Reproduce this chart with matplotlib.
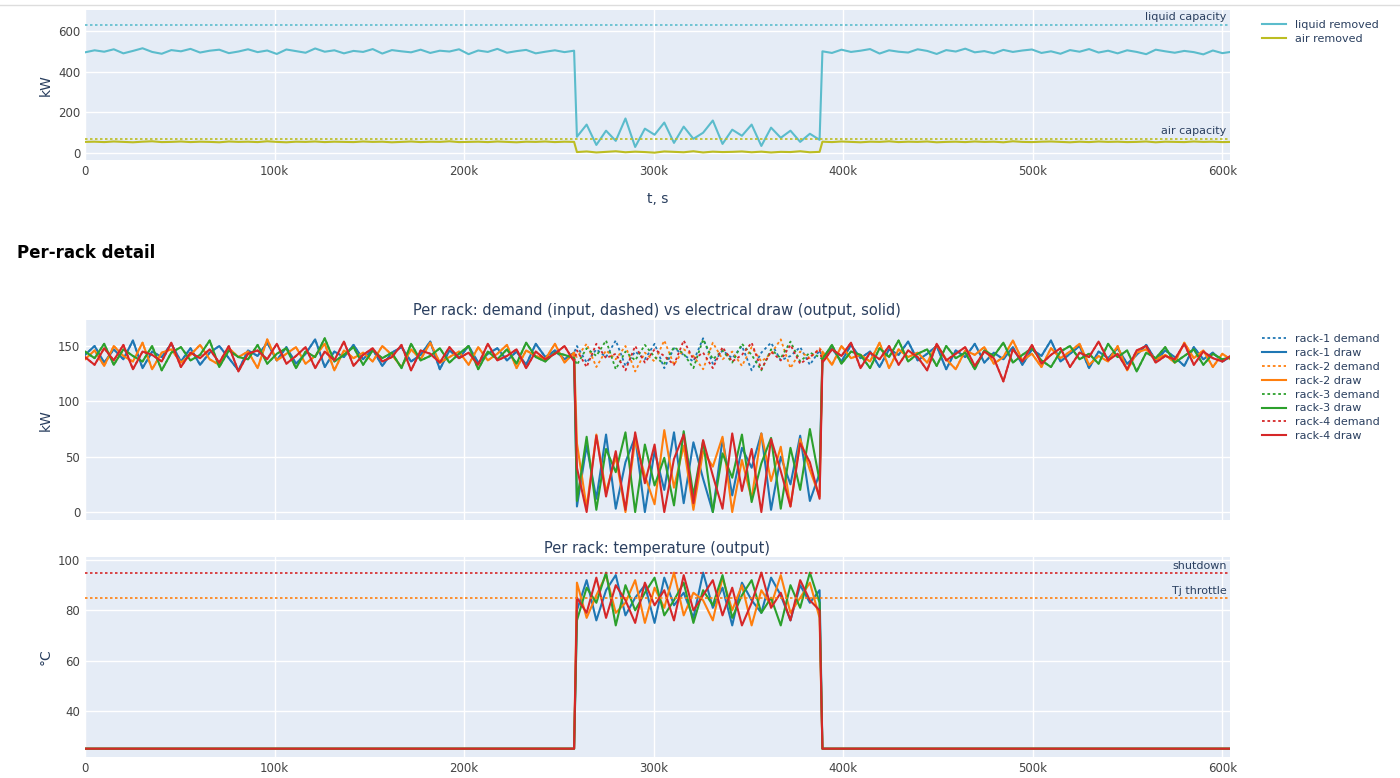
import numpy as np
import matplotlib
matplotlib.use("Agg")
import matplotlib.pyplot as plt
from matplotlib.ticker import FuncFormatter
from matplotlib.lines import Line2D

# ---- data: three time segments (normal / cooling failure / normal) ----
seg_a = (0, 258000)
seg_f = (259500, 387500)
seg_b = (389000, 605000)

liq_a = [495,505,498,510,490,502,515,497,488,506,500,512,494,503,508,491,499,510,496,504,487,509,501,493,514,498,505,490,502,497,511,489,506,500,495,508,492,503,499,510,486,504,497,512,493,501,507,490,498,505,496,503]
liq_f = [80,140,40,110,60,170,30,120,90,150,50,130,70,100,160,45,115,85,140,35,125,75,110,55,95,65]
liq_b = [500,492,508,497,503,511,489,505,498,494,510,502,487,506,499,513,495,501,490,507,497,504,509,492,500,488,506,498,511,494,503,490,505,497,486,508,500,493,502,496,485,504,491,498]
air_a = [55,56,54,57,55,53,56,58,54,55,57,54,56,55,53,57,55,56,54,58,55,53,56,55,57,54,56,55,54,57,55,56,53,55,57,54,56,55,58,54,55,56,54,57,55,53,56,55,57,54,56,55]
air_f = [5,8,3,6,9,4,7,5,2,8,6,4,9,3,7,5,6,8,4,7,3,6,5,9,4,6]
air_b = [56,54,57,55,53,56,55,58,54,56,55,57,53,55,56,54,57,55,56,53,58,55,54,56,57,55,53,56,54,57,55,56,54,55,57,53,56,55,54,57,55,56,54,55]
liquid_capacity = 630
air_capacity = 70

racks = ["rack-1", "rack-2", "rack-3", "rack-4"]
demand_a = [
 [142,150,135,147,138,155,130,145,140,152,136,148,133,144,150,139,128,146,141,153,137,149,134,143,156,131,145,140,151,138,147,132,144,149,136,142,154,129,146,139,150,135,143,148,137,145,133,152,140,146,138,144],
 [138,146,132,150,141,136,153,129,144,147,135,142,151,138,133,148,140,145,130,156,137,143,149,134,141,152,128,146,139,144,136,150,142,131,147,138,153,135,140,145,133,149,137,143,151,130,146,141,138,152,135,144],
 [145,139,152,133,147,141,136,150,128,144,149,137,142,155,131,146,140,138,151,134,143,148,130,145,140,157,136,142,149,133,146,139,144,130,152,137,141,148,135,143,150,129,145,138,147,134,153,140,136,144,142,139],
 [140,133,148,137,151,129,145,142,136,153,131,144,139,147,135,150,127,143,146,138,152,134,141,149,130,145,137,154,132,142,148,136,140,151,128,146,143,135,149,139,144,133,152,137,141,147,130,145,138,143,150,136]]
demand_f = [
 [150,135,147,140,155,132,145,138,152,130,148,142,136,157,134,146,139,150,128,144,153,137,141,149,133,146],
 [140,152,131,146,138,150,127,144,136,155,133,147,141,129,153,138,145,132,149,136,143,156,130,145,139,148],
 [133,148,141,155,129,145,137,151,140,134,149,143,130,156,138,146,135,152,142,128,147,139,154,136,144,140],
 [146,131,152,139,143,128,150,135,147,141,133,155,138,144,130,149,136,142,153,129,145,137,151,134,140,147]]
demand_b = [
 [140,148,136,151,139,145,131,147,142,154,137,143,150,129,146,140,152,135,144,138,149,133,147,141,155,136,143,150,130,145,139,148,134,142,151,137,146,140,132,149,138,144,136,141],
 [145,133,150,139,142,136,153,130,147,140,144,135,151,138,129,146,142,149,134,140,155,137,143,131,148,139,145,152,133,141,136,150,128,144,147,138,142,135,153,139,146,131,143,137],
 [138,151,134,145,142,130,148,140,155,136,143,147,132,150,139,144,129,146,141,153,135,142,148,137,131,145,150,138,143,134,152,140,146,127,144,139,149,135,141,147,133,143,138,140],
 [135,147,141,153,130,144,138,150,133,146,140,128,152,137,143,149,132,145,139,118,147,136,151,134,142,148,131,144,140,154,137,143,129,146,150,135,141,138,152,133,145,139,136,142]]
draw_f = [
 [5,60,12,70,3,45,68,0,55,20,72,8,63,30,0,66,15,58,40,71,2,50,25,69,10,35],
 [62,4,70,18,50,0,65,33,7,74,22,60,2,55,41,68,0,47,12,71,28,59,5,66,38,14],
 [10,68,2,57,36,72,0,61,24,49,6,73,15,64,0,53,31,70,9,44,67,3,58,20,75,28],
 [40,0,69,14,55,2,72,26,61,0,48,70,8,65,33,3,71,19,57,0,66,37,5,62,45,12]]
temp_normal = 25
temp_f = [
 [80,92,76,88,94,78,85,90,75,93,82,87,77,95,81,89,74,91,84,79,93,86,76,90,83,88],
 [91,77,86,94,79,83,92,75,89,81,95,78,87,84,76,93,80,90,74,88,82,94,79,85,91,77],
 [76,89,83,95,74,90,80,87,93,78,84,91,75,88,82,94,77,86,92,79,85,74,90,81,95,83],
 [85,79,93,77,90,84,75,91,82,88,76,94,80,86,92,78,89,74,83,95,81,87,76,92,84,80]]
tj_throttle = 85
shutdown = 95

def series(a, f, b):
    ta = np.linspace(*seg_a, len(a)); tf = np.linspace(*seg_f, len(f)); tb = np.linspace(*seg_b, len(b))
    return np.concatenate([ta, tf, tb]), np.concatenate([a, f, b]).astype(float)

# ---- style ----
BG = "#e5ecf6"; TXT = "#2a3f5f"
rack_colors = ["#1f77b4", "#ff7f0e", "#2ca02c", "#d62728"]
LIQ = "#5bbccc"; AIR = "#bcbd22"
plt.rcParams.update({"font.family": ["DejaVu Sans"], "font.size": 8.5})
kfmt = FuncFormatter(lambda v, p: "0" if v == 0 else f"{int(v/1000)}k")
dot = (0, (1.5, 1.5))

fig = plt.figure(figsize=(14, 7.78), dpi=100)
fig.add_artist(Line2D([0, 1], [1-5/778, 1-5/778], color="#dddddd", lw=1))

def style(ax, ylim, yticks):
    ax.set_facecolor(BG)
    for s in ax.spines.values(): s.set_visible(False)
    ax.grid(True, color="white", lw=1); ax.set_axisbelow(True)
    ax.set_xlim(0, 604000); ax.set_ylim(*ylim); ax.set_yticks(yticks)
    ax.set_xticks(range(0, 600001, 100000)); ax.xaxis.set_major_formatter(kfmt)
    ax.tick_params(length=0, colors="#444444", labelsize=8.5)

L = 85/1400; W = 1145/1400
ax1 = fig.add_axes([L, 1-160/778, W, 150/778])
style(ax1, (-34, 703), [0, 200, 400, 600])
t, y = series(liq_a, liq_f, liq_b); ax1.plot(t, y, color=LIQ, lw=1.5)
t, y = series(air_a, air_f, air_b); ax1.plot(t, y, color=AIR, lw=1.5)
ax1.axhline(liquid_capacity, color=LIQ, ls=dot, lw=1.2)
ax1.axhline(air_capacity, color=AIR, ls=dot, lw=1.2)
ax1.text(0.997, liquid_capacity+15, "liquid capacity", transform=ax1.get_yaxis_transform(), ha="right", va="bottom", color=TXT, fontsize=8)
ax1.text(0.997, air_capacity+15, "air capacity", transform=ax1.get_yaxis_transform(), ha="right", va="bottom", color=TXT, fontsize=8)
ax1.set_ylabel("kW", color=TXT, fontsize=10)
ax1.set_xlabel("t, s", color=TXT, fontsize=10, labelpad=10)
fig.legend([Line2D([], [], color=LIQ, lw=1.5), Line2D([], [], color=AIR, lw=1.5)],
           ["liquid removed", "air removed"], loc="upper left", bbox_to_anchor=(1252/1400, 1-10/778),
           frameon=False, fontsize=8, handlelength=2.2, labelspacing=0.35, labelcolor=TXT)

fig.text(17/1400, 1-253/778, "Per-rack detail", fontsize=12, fontweight="bold", va="center")

ax2 = fig.add_axes([L, 1-520/778, W, 200/778])
style(ax2, (-7.2, 173.5), [0, 50, 100, 150])
ax2.tick_params(labelbottom=False)
handles = []; labels = []
for i, r in enumerate(racks):
    t, d = series(demand_a[i], demand_f[i], demand_b[i])
    ax2.plot(t, d, color=rack_colors[i], ls=dot, lw=1.3)
    t, w = series(demand_a[i], draw_f[i], demand_b[i])
    ax2.plot(t, w, color=rack_colors[i], lw=1.5)
    handles += [Line2D([], [], color=rack_colors[i], ls=dot, lw=1.3), Line2D([], [], color=rack_colors[i], lw=1.5)]
    labels += [f"{r} demand", f"{r} draw"]
ax2.set_ylabel("kW", color=TXT, fontsize=10)
fig.text(657/1400, 1-311/778, "Per rack: demand (input, dashed) vs electrical draw (output, solid)",
         ha="center", va="center", fontsize=10.5, color=TXT)
fig.legend(handles, labels, loc="upper left", bbox_to_anchor=(1252/1400, 1-324/778),
           frameon=False, fontsize=8, handlelength=2.2, labelspacing=0.35, labelcolor=TXT)

ax3 = fig.add_axes([L, 1-757/778, W, 200/778])
style(ax3, (21.7, 101.2), [40, 60, 80, 100])
for i, r in enumerate(racks):
    na = [temp_normal]*len(demand_a[i]); nb = [temp_normal]*len(demand_b[i])
    t, y = series(na, temp_f[i], nb)
    ax3.plot(t, y, color=rack_colors[i], lw=1.5)
ax3.axhline(shutdown, color="#d62728", ls=dot, lw=1.2)
ax3.axhline(tj_throttle, color="#ff7f0e", ls=dot, lw=1.2)
ax3.text(0.997, shutdown+0.8, "shutdown", transform=ax3.get_yaxis_transform(), ha="right", va="bottom", color=TXT, fontsize=8)
ax3.text(0.997, tj_throttle+0.8, "Tj throttle", transform=ax3.get_yaxis_transform(), ha="right", va="bottom", color=TXT, fontsize=8)
ax3.set_ylabel("°C", color=TXT, fontsize=10)
fig.text(657/1400, 1-548/778, "Per rack: temperature (output)", ha="center", va="center", fontsize=10.5, color=TXT)

fig.savefig("out.png", dpi=100, facecolor="white")
